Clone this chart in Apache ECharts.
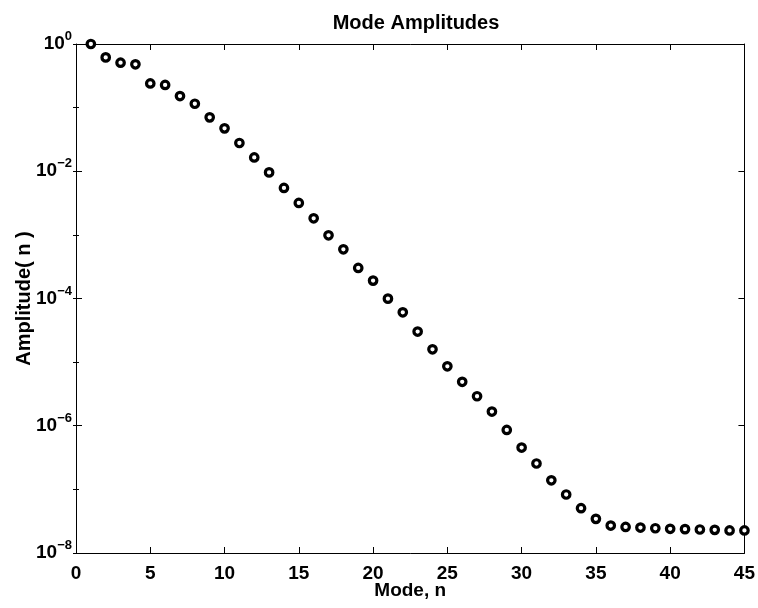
<!DOCTYPE html>
<html>
<head>
<meta charset="utf-8">
<script src="https://cdn.jsdelivr.net/npm/echarts@6/dist/echarts.min.js"></script>
<style>html,body{margin:0;padding:0;background:#fff;}#c{width:758px;height:608px;}</style>
</head>
<body>
<div id="c"></div>
<script>
var modes = [1,2,3,4,5,6,7,8,9,10,11,12,13,14,15,16,17,18,19,20,21,22,23,24,25,26,27,28,29,30,31,32,33,34,35,36,37,38,39,40,41,42,43,44,45];
var amplitudes = [1.0,0.616,0.508,0.479,0.240,0.227,0.152,0.115,0.0703,0.0472,0.0278,0.0165,0.0096,0.00546,0.00318,0.00182,0.000984,0.000593,0.000302,0.000191,
  9.95e-5,6.07e-5,3.02e-5,1.59e-5,8.6e-6,4.9e-6,2.91e-6,1.67e-6,8.6e-7,4.54e-7,2.55e-7,1.39e-7,8.3e-8,5.06e-8,3.44e-8,2.70e-8,2.57e-8,2.51e-8,2.45e-8,2.40e-8,2.37e-8,2.34e-8,2.31e-8,2.26e-8,2.26e-8];
var xTicks = [0,5,10,15,20,25,30,35,40,45];
var yMin = 1e-8, yMax = 1;

var FONT = "'Liberation Sans', Arial, Helvetica, sans-serif";
var chart = echarts.init(document.getElementById('c'), null, {renderer: 'canvas'});
var points = modes.map(function (m, i) { return [m, amplitudes[i]]; });

function yLabel(v) {
  var e = Math.round(Math.log10(v));
  var s = (e < 0 ? '\u2212' + (-e) : '' + e);
  return '{b|10}{s|' + s + '}';
}

chart.setOption({
  animation: false,
  backgroundColor: '#fff',
  title: {
    text: 'Mode Amplitudes', left: 411, top: 8, textAlign: 'center',
    textStyle: {fontFamily: FONT, fontWeight: 'bold', fontSize: 20, color: '#000'}
  },
  grid: {left: 76, right: 12, top: 44, bottom: 55, containLabel: false},
  xAxis: [
    {
      type: 'value', position: 'bottom', min: xTicks[0], max: xTicks[xTicks.length - 1], interval: 5,
      name: 'Mode, n', nameLocation: 'middle', nameGap: 28, nameMoveOverlap: false,
      nameTextStyle: {fontFamily: FONT, fontWeight: 'bold', fontSize: 19, color: '#000'},
      axisLine: {show: true, onZero: false, lineStyle: {color: '#000', width: 1}},
      axisTick: {show: true, inside: true, length: 6, lineStyle: {color: '#000'}},
      axisLabel: {show: true, margin: 11, fontFamily: FONT, fontWeight: 'bold', fontSize: 19, color: '#000'},
      splitLine: {show: false}
    },
    {
      type: 'value', position: 'top', min: xTicks[0], max: xTicks[xTicks.length - 1], interval: 5,
      axisLine: {show: true, onZero: false, lineStyle: {color: '#000', width: 1}},
      axisTick: {show: true, inside: true, length: 6, lineStyle: {color: '#000'}},
      axisLabel: {show: false}, splitLine: {show: false}
    }
  ],
  yAxis: [
    {
      type: 'log', logBase: 100, position: 'left', min: yMin, max: yMax,
      name: 'Amplitude( n )', nameLocation: 'middle', nameGap: 42, nameMoveOverlap: false,
      nameTextStyle: {fontFamily: FONT, fontWeight: 'bold', fontSize: 20, color: '#000'},
      axisLine: {show: true, onZero: false, lineStyle: {color: '#000', width: 1}},
      axisTick: {show: true, inside: true, length: 6, lineStyle: {color: '#000'}},
      axisLabel: {
        show: true, margin: 4, formatter: yLabel,
        rich: {
          b: {fontFamily: FONT, fontWeight: 'bold', fontSize: 19, color: '#000', lineHeight: 28, verticalAlign: 'middle'},
          s: {fontFamily: FONT, fontWeight: 'bold', fontSize: 13, color: '#000', lineHeight: 28, verticalAlign: 'top'}
        }
      },
      splitLine: {show: false}
    },
    {
      type: 'log', logBase: 10, position: 'left', min: yMin, max: yMax,
      axisLine: {show: false},
      axisTick: {show: true, inside: true, length: 3, lineStyle: {color: '#000'}},
      axisLabel: {show: false}, splitLine: {show: false}
    },
    {
      type: 'log', logBase: 100, position: 'right', min: yMin, max: yMax,
      axisLine: {show: true, onZero: false, lineStyle: {color: '#000', width: 1}},
      axisTick: {show: true, inside: true, length: 6, lineStyle: {color: '#000'}},
      axisLabel: {show: false}, splitLine: {show: false}
    },
    {
      type: 'log', logBase: 10, position: 'right', min: yMin, max: yMax,
      axisLine: {show: false},
      axisTick: {show: true, inside: true, length: 3, lineStyle: {color: '#000'}},
      axisLabel: {show: false}, splitLine: {show: false}
    }
  ],
  series: [{
    type: 'scatter', xAxisIndex: 0, yAxisIndex: 0, data: points,
    symbol: 'circle', symbolSize: 7.5, clip: false,
    itemStyle: {color: '#fff', borderColor: '#000', borderWidth: 3.2, opacity: 1},
    emphasis: {disabled: true}
  }]
});
</script>
</body>
</html>
